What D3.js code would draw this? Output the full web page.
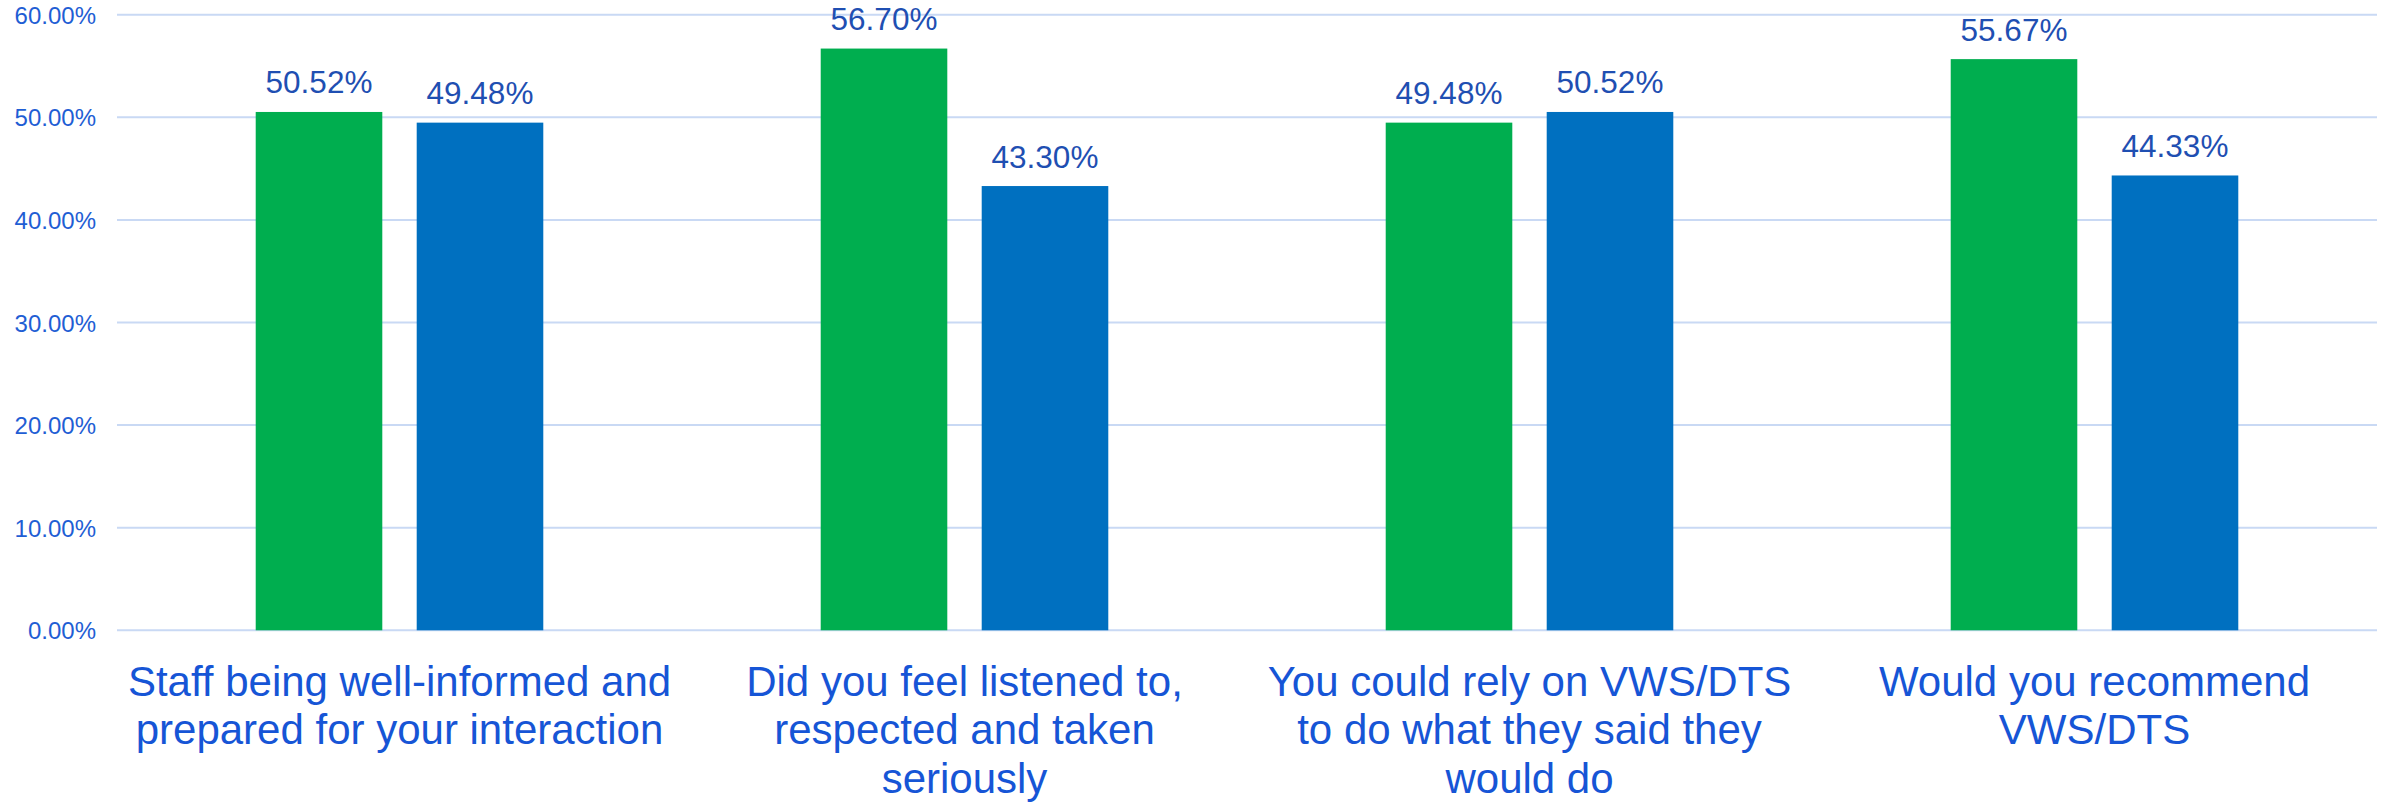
<!DOCTYPE html>
<html>
<head>
<meta charset="utf-8">
<script src="https://cdn.jsdelivr.net/npm/d3@7"></script>
<style>
  html, body { margin: 0; padding: 0; background: #ffffff; }
  svg { display: block; }
  .ytick text { font-family: "Liberation Sans", Arial, sans-serif; font-size: 24px; fill: #1F5ED4; }
</style>
</head>
<body>
<svg id="chart" width="2387" height="804"></svg>
<script>
// ---- data ----
const categories = [
  "Staff being well-informed and prepared for your interaction",
  "Did you feel listened to, respected and taken seriously",
  "You could rely on VWS/DTS to do what they said they would do",
  "Would you recommend VWS/DTS"
];
const categoryLines = [
  ["Staff being well-informed and", "prepared for your interaction"],
  ["Did you feel listened to,", "respected and taken", "seriously"],
  ["You could rely on VWS/DTS", "to do what they said they", "would do"],
  ["Would you recommend", "VWS/DTS"]
];
const seriesNames = ["Series A", "Series B"];
const seriesA = [50.52, 56.70, 49.48, 55.67];
const seriesB = [49.48, 43.30, 50.52, 44.33];
const yTicks = [0, 10, 20, 30, 40, 50, 60];

// ---- layout ----
const W = 2387, H = 804;
const plotLeft = 117, plotRight = 2377, plotTop = 14.7, plotBottom = 630.3;
const colors = ["#00AE4F", "#0070C0"];

const svg = d3.select("#chart");

const x0 = d3.scaleBand().domain(categories).range([plotLeft, plotRight]).paddingInner(0).paddingOuter(0);
const bandW = x0.bandwidth();
const x1 = d3.scaleBand().domain(seriesNames).range([bandW * 0.2455, bandW * (1 - 0.2455)]).paddingInner(0.2137).paddingOuter(0);
const y = d3.scaleLinear().domain([0, 60]).range([plotBottom, plotTop]);

// gridlines
svg.append("g").selectAll("line").data(yTicks).join("line")
  .attr("x1", plotLeft).attr("x2", plotRight)
  .attr("y1", d => y(d)).attr("y2", d => y(d))
  .attr("stroke", "#C9D9F4").attr("stroke-width", 2);

// y axis labels
const yAxis = d3.axisLeft(y).tickValues(yTicks).tickSize(0).tickPadding(0)
  .tickFormat(d => d.toFixed(2) + "%");
const ya = svg.append("g").attr("class", "ytick")
  .attr("transform", `translate(96,0)`).call(yAxis)
  .attr("font-size", 24).attr("font-family", "Liberation Sans, Arial, sans-serif");
ya.select(".domain").remove();
ya.selectAll("text")
  .style("font-size", "24px")
  .style("fill", "#1F5ED4")
  .attr("dy", "0.36em");

// bars
const rows = categories.map((c, i) => ({ c, vals: [seriesA[i], seriesB[i]] }));
const groups = svg.append("g").selectAll("g").data(rows).join("g")
  .attr("transform", d => `translate(${x0(d.c)},0)`);

groups.selectAll("rect").data(d => d.vals.map((v, j) => ({ v, s: seriesNames[j], j }))).join("rect")
  .attr("x", d => x1(d.s))
  .attr("width", x1.bandwidth())
  .attr("y", d => y(d.v))
  .attr("height", d => y(0) - y(d.v))
  .attr("fill", d => colors[d.j]);

groups.selectAll("text.val").data(d => d.vals.map((v, j) => ({ v, s: seriesNames[j], j }))).join("text")
  .attr("class", "val")
  .attr("x", d => x1(d.s) + x1.bandwidth() / 2)
  .attr("y", d => y(d.v) - 18.5)
  .attr("text-anchor", "middle")
  .attr("font-family", "Liberation Sans, Arial, sans-serif")
  .attr("font-size", 31.5)
  .attr("fill", "#1F4FB2")
  .text(d => d.v.toFixed(2) + "%");

// category labels
const lineH = 48.4;
const firstBaseline = 695.8;
const catG = svg.append("g").selectAll("text").data(categories).join("text")
  .attr("text-anchor", "middle")
  .attr("font-family", "Liberation Sans, Arial, sans-serif")
  .attr("font-size", 42)
  .attr("fill", "#1655D6");
catG.each(function(c, i) {
  const t = d3.select(this);
  categoryLines[i].forEach((ln, k) => {
    t.append("tspan")
      .attr("x", x0(c) + bandW / 2)
      .attr("y", firstBaseline + k * lineH)
      .text(ln);
  });
});
</script>
</body>
</html>
